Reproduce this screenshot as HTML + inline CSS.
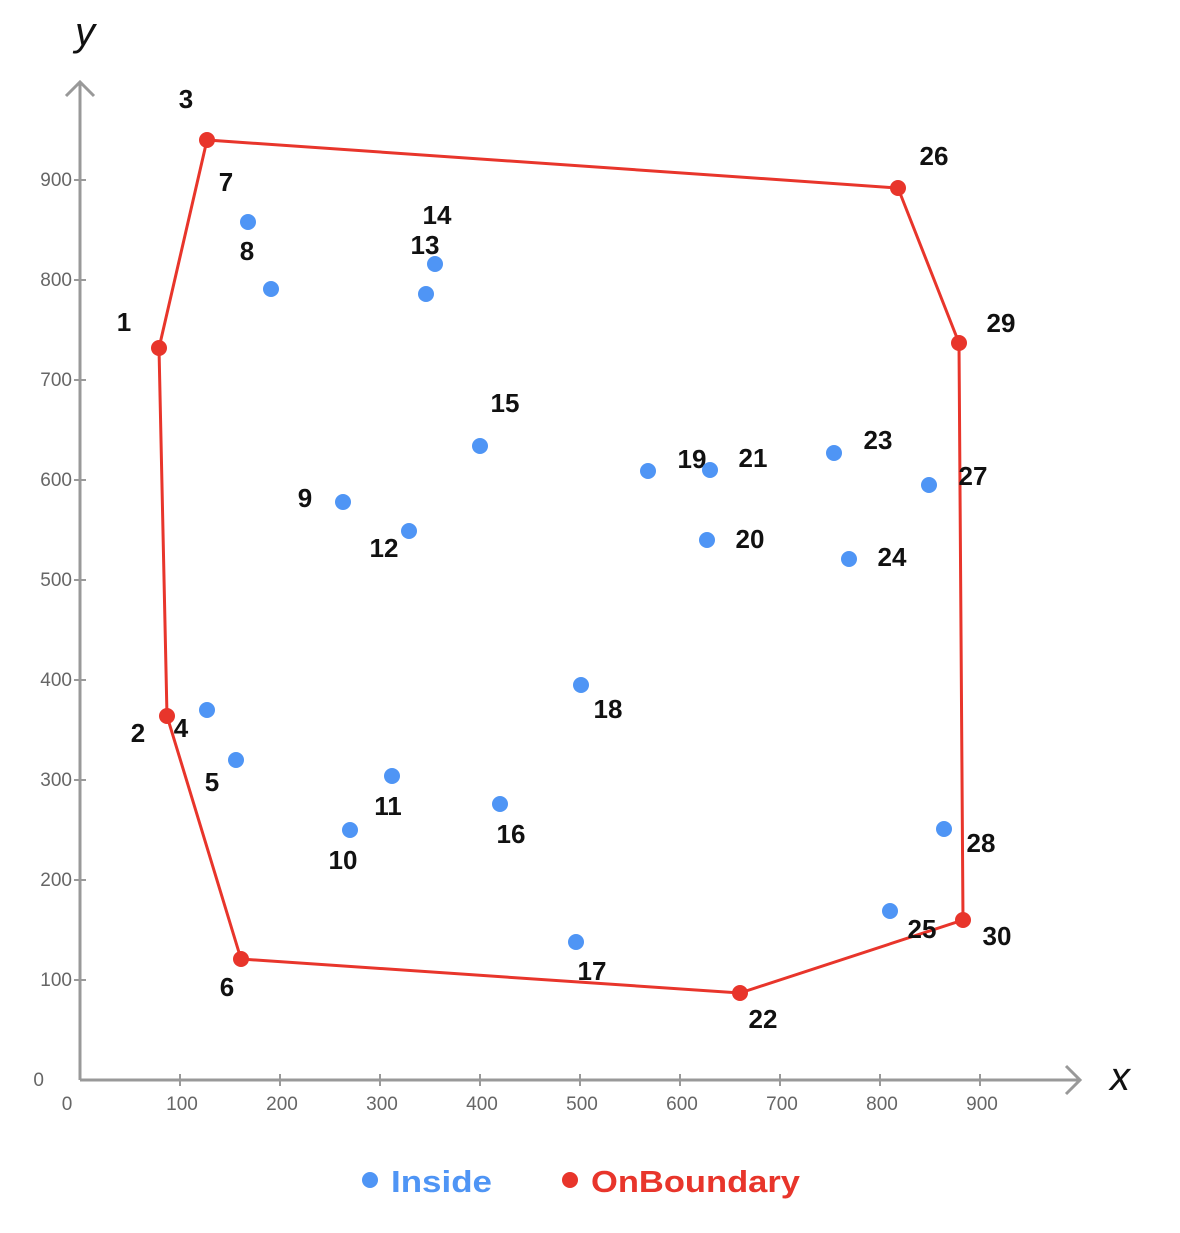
<!DOCTYPE html>
<html><head><meta charset="utf-8"><style>
body{margin:0;background:#fff}
svg text{font-family:"Liberation Sans",sans-serif}
</style></head><body>
<svg id="chart" width="1180" height="1228" xmlns="http://www.w3.org/2000/svg">
<g id="axes"></g>
<g id="hull"></g>
<g id="pts"></g>
<g id="legend">
<circle cx="370" cy="1180" r="8" fill="#4f95f5"/>
<text x="391" y="1192" font-size="31" font-weight="bold" fill="#4f95f5" textLength="101" lengthAdjust="spacingAndGlyphs">Inside</text>
<circle cx="570" cy="1180" r="8" fill="#e8352b"/>
<text x="591" y="1192" font-size="31" font-weight="bold" fill="#e8352b" textLength="209" lengthAdjust="spacingAndGlyphs">OnBoundary</text>
</g>
</svg>
<script>
const xs=[79,87,127,127,156,161,168,191,263,270,312,329,346,355,400,420,496,501,568,627,630,660,754,769,810,818,849,864,879,883];
const ys=[732,364,940,370,320,121,858,791,578,250,304,549,786,816,634,276,138,395,609,540,610,87,627,521,169,892,595,251,737,160];
const onBoundary=[1,1,1,0,0,1,0,0,0,0,0,0,0,0,0,0,0,0,0,0,0,1,0,0,0,1,0,0,1,1];
const hullOrder=[1,3,26,29,30,22,6,2];
const xTicks=[0,100,200,300,400,500,600,700,800,900];
const yTicks=[0,100,200,300,400,500,600,700,800,900];
const lblOff=[[-35,-26],[-29,17],[-21,-41],[-26,18],[-24,22],[-14,28],[-22,-40],[-24,-38],[-38,-4],[-7,30],[-4,30],[-25,17],[-1,-49],[2,-49],[25,-43],[11,30],[16,29],[27,24],[44,-12],[43,-1],[43,-12],[23,26],[44,-13],[43,-2],[32,18],[36,-32],[44,-9],[37,14],[42,-20],[34,16]];
const NS="http://www.w3.org/2000/svg";
const X=v=>80+v, Y=v=>1080-v;
function mk(p,t,a){const e=document.createElementNS(NS,t);for(const k in a)e.setAttribute(k,a[k]);p.appendChild(e);return e;}
const ax=document.getElementById('axes');
const g='#999';
let l=mk(ax,'line',{x1:80,y1:1080,x2:1080,y2:1080,stroke:g,'stroke-width':3});


l=mk(ax,'polyline',{points:'1066,1066 1080,1080 1066,1094',fill:'none',stroke:g,'stroke-width':3});


l=mk(ax,'line',{x1:80,y1:1080,x2:80,y2:82,stroke:g,'stroke-width':3});


l=mk(ax,'polyline',{points:'66,96 80,82 94,96',fill:'none',stroke:g,'stroke-width':3});


xTicks.forEach(v=>{
 if(v>0){const t=mk(ax,'line',{x1:X(v),y1:1074,x2:X(v),y2:1086,stroke:g,'stroke-width':2});
 
 }
 const tx=mk(ax,'text',{x:v===0?67:X(v)+2,y:1110,'font-size':19,fill:'#666','text-anchor':'middle'});
 tx.textContent=v;
 
 
});
yTicks.forEach(v=>{
 if(v>0){const t=mk(ax,'line',{x1:74,y1:Y(v),x2:86,y2:Y(v),stroke:g,'stroke-width':2});
 
 }
 const tx=mk(ax,'text',{x:v===0?44:72,y:Y(v)+6,'font-size':19,fill:'#666','text-anchor':'end'});
 tx.textContent=v;
 
 
});
let t=mk(ax,'text',{x:1120,y:1090,'font-size':40,'font-style':'italic','font-family':'Liberation Serif,serif','text-anchor':'middle',fill:'#111'});t.textContent='x';


t=mk(ax,'text',{x:85,y:45,'font-size':40,'font-style':'italic','font-family':'Liberation Serif,serif','text-anchor':'middle',fill:'#111'});t.textContent='y';


const hull=document.getElementById('hull');
const pp=hullOrder.map(i=>X(xs[i-1])+','+Y(ys[i-1])).join(' ');
const poly=mk(hull,'polygon',{points:pp,fill:'none',stroke:'#e8352b','stroke-width':3});


const pg=document.getElementById('pts');
xs.forEach((x,i)=>{
 const c=mk(pg,'circle',{cx:X(x),cy:Y(ys[i]),r:8,fill:onBoundary[i]?'#e8352b':'#4f95f5'});
 
 
 const o=lblOff[i];
 const tx=mk(pg,'text',{x:X(x)+o[0],y:Y(ys[i])+o[1]+9,'font-size':26,'font-weight':'bold','text-anchor':'middle',fill:'#111'});
 tx.textContent=i+1;
 
 
});
</script>
</body></html>
